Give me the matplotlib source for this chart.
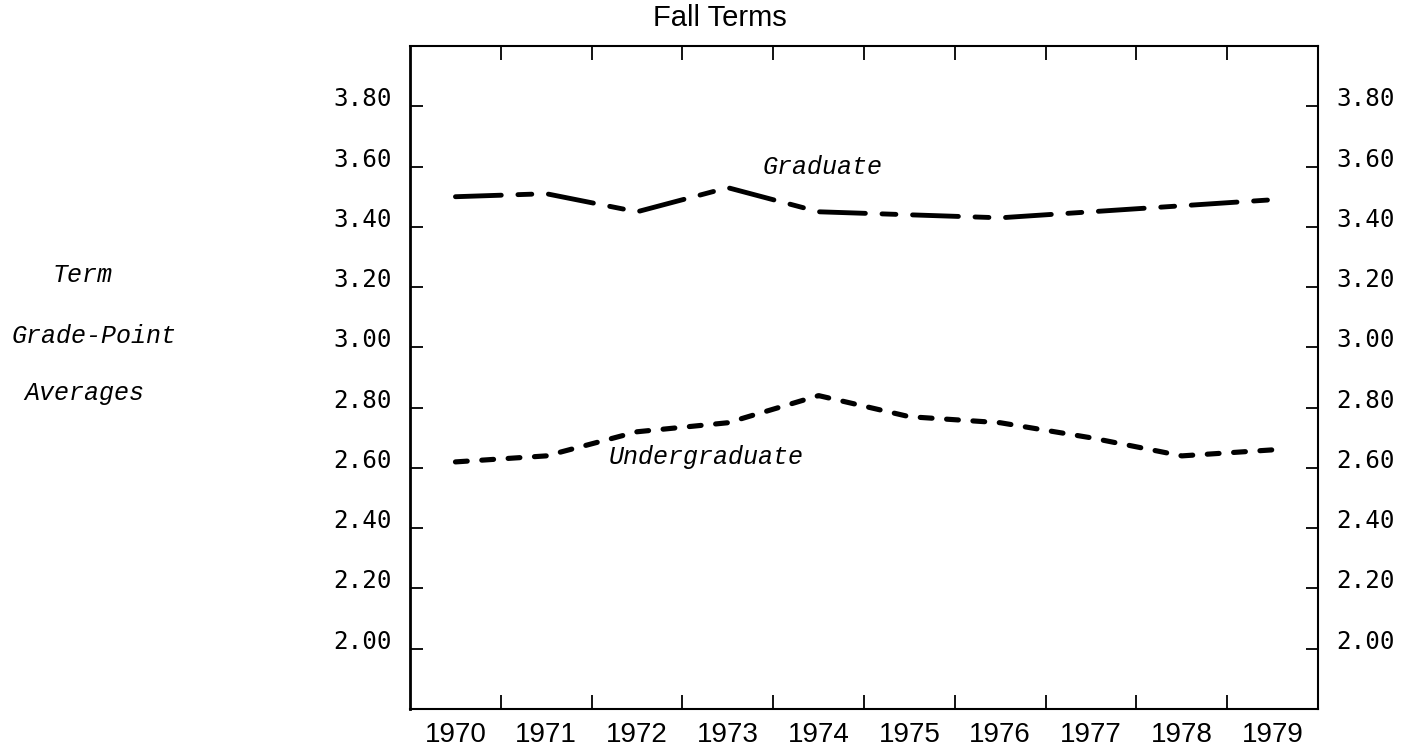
import matplotlib
matplotlib.use('Agg')
import matplotlib.pyplot as plt

# fall term grade point averages
years = [1970, 1971, 1972, 1973, 1974, 1975, 1976, 1977, 1978, 1979]
graduate = [3.50, 3.51, 3.45, 3.53, 3.45, 3.44, 3.43, 3.45, 3.47, 3.49]
undergraduate = [2.62, 2.64, 2.72, 2.75, 2.84, 2.77, 2.75, 2.70, 2.64, 2.66]
gpa_ticks = [2.00, 2.20, 2.40, 2.60, 2.80, 3.00, 3.20, 3.40, 3.60, 3.80]
gpa_labels = ['2.00', '2.20', '2.40', '2.60', '2.80', '3.00', '3.20', '3.40', '3.60', '3.80']
year_labels = [str(y) for y in years]
side_labels = ['Term', 'Grade-Point', 'Averages']

plt.rcParams['lines.scale_dashes'] = False
typewriter = 'Liberation Mono'

fig = plt.figure(figsize=(14.13, 7.45), dpi=100)
ax = fig.add_axes([0.2902, 0.0483, 0.6426, 0.8899])

# the two dashed series
ax.plot(years, graduate, color='black', lw=3.5, dashes=(33, 12, 10, 12), dash_capstyle='round')
ax.plot(years, undergraduate, color='black', lw=3.7, dashes=(8.5, 10.5), dash_capstyle='round')

ax.set_xlim(1969.5, 1979.5)
ax.set_ylim(1.80, 4.00)

# year labels sit between the tick marks
ax.set_xticks(years)
ax.set_xticklabels(year_labels, fontfamily='Liberation Sans', fontsize=20)
ax.set_xticks([y + 0.5 for y in years[:-1]], minor=True)
ax.tick_params(axis='x', which='major', length=0, pad=9)
ax.tick_params(axis='x', which='minor', direction='in', length=10, width=1.3, top=True, bottom=True)

# gpa scale on both sides
ax.set_yticks(gpa_ticks)
ax.set_yticklabels(gpa_labels, fontfamily='DejaVu Sans Mono', fontsize=17.5)
ax.tick_params(axis='y', direction='in', length=9, width=1.3, left=True, right=True,
               labelleft=True, labelright=True, pad=13)
for t in ax.yaxis.get_major_ticks():
    t.label1.set_va('baseline')
    t.label2.set_va('baseline')

for s in ax.spines.values():
    s.set_linewidth(1.5)
ax.spines['left'].set_linewidth(2)

# series names
ax.text(1973.38, 3.60, 'Graduate', fontfamily=typewriter, style='italic', fontsize=18, va='center')
ax.text(1971.69, 2.636, 'Undergraduate', fontfamily=typewriter, style='italic', fontsize=18, va='center')

fig.text(720 / 1413, 1 - 18 / 745, 'Fall Terms', ha='center', va='center',
         fontfamily='Liberation Sans', fontsize=21)

# typed y axis caption on the left
fig.text(53 / 1413, 1 - 282 / 745, side_labels[0], fontfamily=typewriter, style='italic', fontsize=18, va='baseline')
fig.text(12 / 1413, 1 - 343 / 745, side_labels[1], fontfamily=typewriter, style='italic', fontsize=18, va='baseline')
fig.text(24 / 1413, 1 - 400 / 745, side_labels[2], fontfamily=typewriter, style='italic', fontsize=18, va='baseline')

fig.savefig('out.png', dpi=100)
